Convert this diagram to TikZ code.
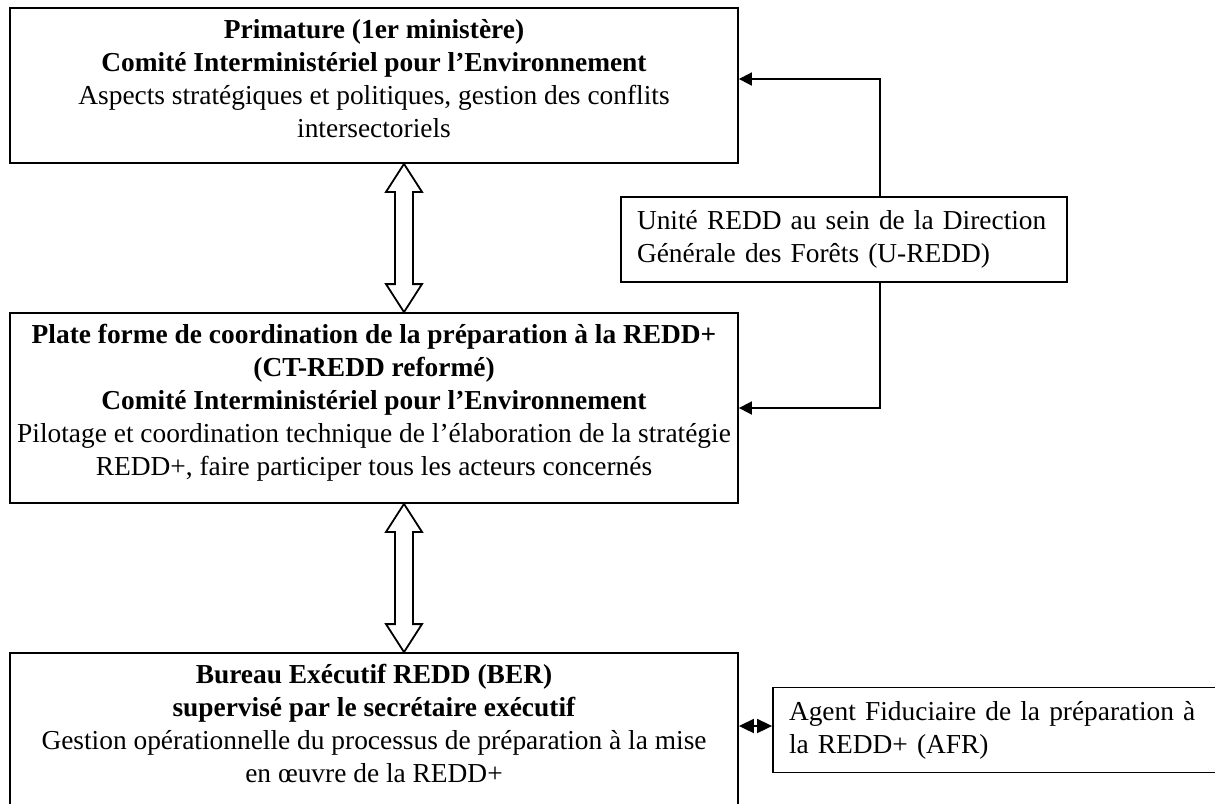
\documentclass[tikz,border=0pt]{standalone}
\usepackage{fontspec}
\setmainfont{Liberation Serif}
\usetikzlibrary{positioning,arrows.meta,calc}

% hollow two-headed block arrow between two named points (top, bottom)
\newcommand{\hollowarrow}[2]{%
  \draw[blockarrow] (#1) -- ++(18,28) -- ++(-9,0) -- ($(#2)+(9,-28)$)
    -- ++(9,0) -- (#2) -- ++(-18,-28) -- ++(9,0) -- ($(#1)+(-9,28)$)
    -- ++(-9,0) -- cycle;}

\begin{document}
\begin{tikzpicture}[x=0.5pt,y=-0.5pt,
  box/.style={draw,line width=0.9pt,minimum width=364pt,inner sep=0pt},
  txt/.style={align=center,inner sep=0pt,font=\fontsize{13.7pt}{16.5pt}\selectfont},
  side/.style={draw,line width=0.9pt,align=left,inner xsep=8pt,text width=207pt,
    minimum height=42.5pt,font=\fontsize{13.7pt}{16.5pt}\selectfont},
  sig/.style={-{Triangle[length=6.5pt,width=6.5pt]},line width=0.9pt},
  both/.style={{Triangle[length=7.5pt,width=7pt]}-{Triangle[length=7.5pt,width=7pt]},line width=0.9pt},
  blockarrow/.style={line width=0.9pt,fill=white,draw}]

\useasboundingbox (0,0) rectangle (1215,803);
\clip (0,0) rectangle (1215,803);

% primature
\node[box,minimum height=77.5pt] (prim) at (374,85.5) {};
\node[txt,below=5.75pt of prim.north] (primtxt)
  {\textbf{Primature (1er ministère)}\\
   \textbf{Comité Interministériel pour l’Environnement}\\
   Aspects stratégiques et politiques, gestion des conflits\\
   intersectoriels};

% plate forme CT-REDD
\node[box,minimum height=95pt] (mid) at (374,408) {};
\node[txt,below=5.75pt of mid.north] (midtxt)
  {\textbf{Plate forme de coordination de la préparation à la REDD+}\\
   \textbf{(CT-REDD reformé)}\\
   \textbf{Comité Interministériel pour l’Environnement}\\
   Pilotage et coordination technique de l’élaboration de la stratégie\\
   REDD+, faire participer tous les acteurs concernés};

% bureau executif
\node[box,minimum height=88.5pt] (ber) at (374,741.5) {};
\node[txt,below=5.75pt of ber.north] (bertxt)
  {\textbf{Bureau Exécutif REDD (BER)}\\
   \textbf{supervisé par le secrétaire exécutif}\\
   Gestion opérationnelle du processus de préparation à la mise\\
   en œuvre de la REDD+};

% side units
\node[side] (uredd) at (844,239.5)
  {Unité REDD au sein de la Direction\\Générale des Forêts (U-REDD)};
\node[side,text width=217.5pt] (afr) at (1006.5,730)
  {Agent Fiduciaire de la préparation à\\la REDD+ (AFR)};

% links
\coordinate (a1t) at ([xshift=15pt]prim.south);
\coordinate (a1b) at ([xshift=15pt]mid.north);
\hollowarrow{a1t}{a1b}
\coordinate (a2t) at ([xshift=15pt]mid.south);
\coordinate (a2b) at ([xshift=15pt]ber.north);
\hollowarrow{a2t}{a2b}

\draw[sig] ([xshift=18pt]uredd.north) |- ([yshift=3.25pt]prim.east);
\draw[sig] ([xshift=18pt]uredd.south) |- (mid.east);
\coordinate (afrin) at ([yshift=2pt]afr.west);
\draw[both] (ber.east |- afrin) -- (afrin);
\end{tikzpicture}
\end{document}
